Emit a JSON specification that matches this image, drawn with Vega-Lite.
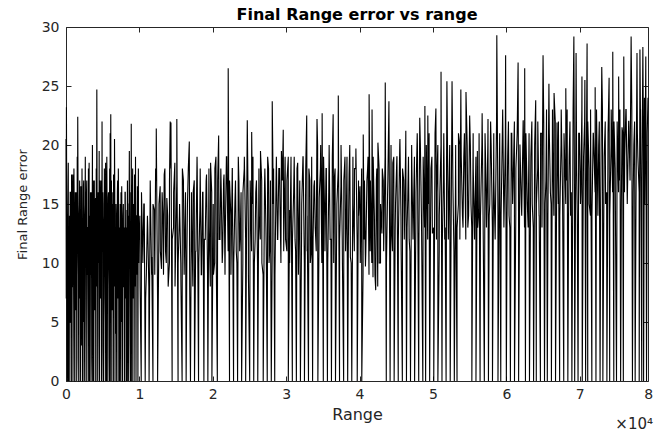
{
"$schema":"https://vega.github.io/schema/vega-lite/v6.json",
"width":582,"height":354,"autosize":"none",
"padding":{"left":66,"top":27,"right":6,"bottom":51},
"title":{"text":"Final Range error vs range","fontSize":16,"fontWeight":"bold","font":"DejaVu Sans","color":"black","anchor":"middle","offset":-3},
"datasets":{"d":[
{"r":0,"e":20.5},{"r":60,"e":23.2},{"r":120,"e":9},{"r":190,"e":0},{"r":250,"e":14},{"r":310,"e":18.5},{"r":380,"e":6},{"r":440,"e":0},{"r":500,"e":13},{"r":570,"e":16},{"r":630,"e":11},{"r":700,"e":0},{"r":760,"e":17.5},{"r":830,"e":8},{"r":890,"e":15},{"r":950,"e":0},{"r":1020,"e":12},{"r":1080,"e":18},{"r":1150,"e":10},{"r":1210,"e":0},{"r":1270,"e":16},{"r":1340,"e":13},{"r":1400,"e":7},{"r":1460,"e":0},{"r":1530,"e":19},{"r":1600,"e":22.4},{"r":1660,"e":11},{"r":1730,"e":0},{"r":1790,"e":14},{"r":1860,"e":17},{"r":1920,"e":9},{"r":1990,"e":0},{"r":2050,"e":15},{"r":2120,"e":12},{"r":2180,"e":18},{"r":2250,"e":0},{"r":2310,"e":10},{"r":2380,"e":16.5},{"r":2440,"e":5},{"r":2500,"e":0},{"r":2570,"e":14},{"r":2630,"e":19},{"r":2700,"e":11},{"r":2760,"e":0},{"r":2830,"e":17},{"r":2890,"e":13},{"r":2960,"e":8},{"r":3020,"e":0},{"r":3080,"e":15.5},{"r":3150,"e":18.5},{"r":3210,"e":12},{"r":3280,"e":0},{"r":3340,"e":16},{"r":3410,"e":9},{"r":3470,"e":14},{"r":3540,"e":0},{"r":3600,"e":20},{"r":3670,"e":13},{"r":3730,"e":6},{"r":3790,"e":0},{"r":3860,"e":17},{"r":3920,"e":11},{"r":3990,"e":15},{"r":4050,"e":0},{"r":4120,"e":18},{"r":4200,"e":24.7},{"r":4260,"e":10},{"r":4320,"e":0},{"r":4390,"e":16},{"r":4450,"e":12},{"r":4520,"e":19.5},{"r":4580,"e":0},{"r":4650,"e":14},{"r":4710,"e":8},{"r":4780,"e":17},{"r":4850,"e":0},{"r":4910,"e":22},{"r":4980,"e":11},{"r":5040,"e":15},{"r":5100,"e":0},{"r":5170,"e":13},{"r":5230,"e":18},{"r":5300,"e":7},{"r":5360,"e":0},{"r":5430,"e":16},{"r":5490,"e":12},{"r":5560,"e":19},{"r":5620,"e":0},{"r":5690,"e":10},{"r":5750,"e":15.5},{"r":5820,"e":13},{"r":5880,"e":0},{"r":5950,"e":18},{"r":6020,"e":21},{"r":6100,"e":22.6},{"r":6160,"e":0},{"r":6220,"e":11},{"r":6290,"e":16},{"r":6350,"e":9},{"r":6420,"e":0},{"r":6480,"e":17.5},{"r":6550,"e":13},{"r":6610,"e":20.5},{"r":6680,"e":0},{"r":6740,"e":12},{"r":6810,"e":15},{"r":6870,"e":7},{"r":6940,"e":0},{"r":7000,"e":16},{"r":7070,"e":11},{"r":7130,"e":18},{"r":7200,"e":0},{"r":7260,"e":13},{"r":7330,"e":9},{"r":7390,"e":15},{"r":7460,"e":0},{"r":7520,"e":12},{"r":7590,"e":16.5},{"r":7650,"e":10},{"r":7720,"e":0},{"r":7780,"e":14},{"r":7850,"e":8},{"r":7910,"e":13},{"r":7980,"e":0},{"r":8040,"e":16},{"r":8110,"e":11},{"r":8170,"e":7},{"r":8240,"e":0},{"r":8300,"e":14.5},{"r":8370,"e":17},{"r":8430,"e":12},{"r":8500,"e":0},{"r":8560,"e":15},{"r":8630,"e":19.5},{"r":8690,"e":10},{"r":8760,"e":0},{"r":8820,"e":16},{"r":8890,"e":21.8},{"r":8950,"e":13},{"r":9020,"e":0},{"r":9080,"e":18},{"r":9150,"e":11},{"r":9210,"e":15},{"r":9280,"e":0},{"r":9340,"e":17.5},{"r":9410,"e":12},{"r":9470,"e":19},{"r":9540,"e":0},{"r":9600,"e":14},{"r":9670,"e":10},{"r":9730,"e":16.5},{"r":9800,"e":0},{"r":9860,"e":18},{"r":9930,"e":13},
{"r":10060,"e":14},{"r":10250,"e":0},{"r":10430,"e":11.5},{"r":10600,"e":15},{"r":10790,"e":0},{"r":10950,"e":9},{"r":11140,"e":13},{"r":11320,"e":0},{"r":11500,"e":16},{"r":11680,"e":10.5},{"r":11850,"e":0},{"r":12030,"e":14.5},{"r":12210,"e":18},{"r":12300,"e":21.4},{"r":12480,"e":0},{"r":12650,"e":12},{"r":12830,"e":16.5},{"r":13010,"e":9.5},{"r":13200,"e":14},{"r":13380,"e":17.5},{"r":13560,"e":11},{"r":13740,"e":15.5},{"r":13920,"e":8},{"r":14100,"e":17},{"r":14200,"e":22},{"r":14300,"e":21.9},{"r":14460,"e":0},{"r":14650,"e":13},{"r":14830,"e":18.5},{"r":15100,"e":22.2},{"r":15270,"e":0},{"r":15450,"e":14},{"r":15640,"e":10},{"r":15820,"e":0},{"r":16000,"e":17},{"r":16190,"e":12.5},{"r":16370,"e":0},{"r":16550,"e":15},{"r":16800,"e":20.3},{"r":16960,"e":0},{"r":17150,"e":13},{"r":17330,"e":16},{"r":17510,"e":0},{"r":17700,"e":11},{"r":17880,"e":18},{"r":18060,"e":0},{"r":18240,"e":14.5},{"r":18430,"e":9},{"r":18610,"e":16},{"r":18790,"e":0},{"r":18970,"e":12},{"r":19150,"e":17.5},{"r":19330,"e":0},{"r":19510,"e":13},{"r":19700,"e":18.5},{"r":19880,"e":0},{"r":20060,"e":15},{"r":20250,"e":10},{"r":20430,"e":19},{"r":20620,"e":0},{"r":20800,"e":20.8},{"r":20980,"e":12},{"r":21160,"e":16},{"r":21350,"e":11},{"r":21530,"e":17.5},{"r":21720,"e":13},{"r":21900,"e":19},{"r":22100,"e":26.5},{"r":22280,"e":0},{"r":22460,"e":14},{"r":22650,"e":18},{"r":22830,"e":0},{"r":23010,"e":15},{"r":23200,"e":11},{"r":23380,"e":0},{"r":23560,"e":17},{"r":23750,"e":12.5},{"r":23930,"e":0},{"r":24110,"e":16},{"r":24300,"e":19},{"r":24480,"e":0},{"r":24700,"e":22.1},{"r":24850,"e":13},{"r":25030,"e":0},{"r":25300,"e":21.1},{"r":25400,"e":15},{"r":25580,"e":0},{"r":25770,"e":12},{"r":25950,"e":17},{"r":26130,"e":0},{"r":26320,"e":14},{"r":26500,"e":19.5},{"r":26690,"e":10},{"r":26870,"e":0},{"r":27050,"e":16.5},{"r":27240,"e":13},{"r":27420,"e":0},{"r":27600,"e":18},{"r":27790,"e":11.5},{"r":27970,"e":0},{"r":28100,"e":23.7},{"r":28250,"e":15},{"r":28440,"e":0},{"r":28620,"e":17},{"r":28810,"e":12},{"r":29000,"e":18},{"r":29180,"e":14},{"r":29350,"e":19.5},{"r":29600,"e":21.3},{"r":29750,"e":15},{"r":29920,"e":12},
{"r":30100,"e":17},{"r":30290,"e":0},{"r":30470,"e":14.5},{"r":30660,"e":19},{"r":30840,"e":0},{"r":31020,"e":16},{"r":31210,"e":12},{"r":31390,"e":0},{"r":31570,"e":18.5},{"r":31760,"e":13.5},{"r":31940,"e":0},{"r":32120,"e":15},{"r":32310,"e":19},{"r":32490,"e":0},{"r":32800,"e":22.5},{"r":32860,"e":14},{"r":33040,"e":0},{"r":33230,"e":17},{"r":33410,"e":11},{"r":33600,"e":0},{"r":33780,"e":16.5},{"r":33960,"e":13},{"r":34200,"e":22.2},{"r":34320,"e":0},{"r":34500,"e":15.5},{"r":34700,"e":20},{"r":34900,"e":22.7},{"r":35060,"e":0},{"r":35250,"e":14},{"r":35430,"e":18},{"r":35620,"e":0},{"r":35800,"e":16},{"r":35990,"e":12},{"r":36170,"e":0},{"r":36400,"e":22.6},{"r":36540,"e":17},{"r":36720,"e":0},{"r":36910,"e":15},{"r":37100,"e":24.2},{"r":37270,"e":0},{"r":37460,"e":16.5},{"r":37640,"e":12},{"r":37830,"e":0},{"r":38010,"e":19},{"r":38200,"e":14},{"r":38380,"e":0},{"r":38570,"e":17.5},{"r":38750,"e":10.5},{"r":38940,"e":0},{"r":39120,"e":15},{"r":39310,"e":18},{"r":39500,"e":19.7},{"r":39680,"e":0},{"r":39860,"e":14},{"r":40050,"e":16.5},{"r":40300,"e":0},{"r":40500,"e":20.9},{"r":40620,"e":12},{"r":40800,"e":9.7},{"r":41000,"e":17},{"r":41150,"e":19},{"r":41300,"e":24.3},{"r":41450,"e":11},{"r":41700,"e":23},{"r":41830,"e":8.8},{"r":42020,"e":14},{"r":42200,"e":7.7},{"r":42350,"e":18},{"r":42500,"e":20.2},{"r":42680,"e":10},{"r":42860,"e":15},{"r":43050,"e":12.5},{"r":43230,"e":17},{"r":43500,"e":25.3},{"r":43640,"e":0},{"r":43820,"e":16},{"r":44000,"e":23.7},{"r":44160,"e":0},{"r":44340,"e":13},{"r":44530,"e":18.5},{"r":44710,"e":0},{"r":44900,"e":15},{"r":45080,"e":19},{"r":45270,"e":0},{"r":45500,"e":20.5},{"r":45640,"e":14},{"r":45830,"e":0},{"r":46010,"e":17},{"r":46300,"e":21.2},{"r":46390,"e":0},{"r":46570,"e":15.5},{"r":46760,"e":12},{"r":46940,"e":0},{"r":47130,"e":18},{"r":47320,"e":13.5},{"r":47500,"e":0},{"r":47690,"e":16},{"r":47880,"e":20},{"r":48060,"e":0},{"r":48200,"e":22.3},{"r":48430,"e":14},{"r":48620,"e":0},{"r":48900,"e":23.3},{"r":49000,"e":0},{"r":49300,"e":22.5},{"r":49360,"e":15},{"r":49550,"e":0},{"r":49730,"e":18},{"r":49920,"e":12.5},
{"r":50110,"e":0},{"r":50400,"e":23.1},{"r":50480,"e":16},{"r":50670,"e":0},{"r":50860,"e":14},{"r":51100,"e":26.2},{"r":51230,"e":0},{"r":51420,"e":17},{"r":51600,"e":12},{"r":51790,"e":0},{"r":51900,"e":25.4},{"r":52160,"e":15},{"r":52350,"e":0},{"r":52600,"e":25.4},{"r":52720,"e":16.5},{"r":52910,"e":0},{"r":53100,"e":18},{"r":53280,"e":0},{"r":53470,"e":15},{"r":53650,"e":20},{"r":53800,"e":24.7},{"r":54020,"e":14},{"r":54200,"e":19},{"r":54380,"e":16.5},{"r":54500,"e":24.5},{"r":54750,"e":13},{"r":55000,"e":22.5},{"r":55180,"e":15},{"r":55300,"e":0},{"r":55490,"e":18},{"r":55680,"e":13},{"r":55860,"e":0},{"r":56050,"e":19.5},{"r":56240,"e":14.5},{"r":56420,"e":0},{"r":56700,"e":22.7},{"r":56800,"e":16},{"r":57000,"e":0},{"r":57180,"e":18.5},{"r":57500,"e":22.2},{"r":57560,"e":0},{"r":57740,"e":15},{"r":57930,"e":20},{"r":58110,"e":0},{"r":58300,"e":17},{"r":58490,"e":13},{"r":58700,"e":29.3},{"r":58860,"e":0},{"r":59050,"e":18},{"r":59240,"e":0},{"r":59500,"e":23},{"r":59620,"e":16},{"r":59900,"e":27.6},{"r":60000,"e":0},{"r":60180,"e":19},{"r":60370,"e":14},{"r":60550,"e":0},{"r":60740,"e":21},{"r":60920,"e":16.5},{"r":61110,"e":0},{"r":61300,"e":18},{"r":61600,"e":27},{"r":61670,"e":0},{"r":61850,"e":20},{"r":62040,"e":15},{"r":62300,"e":22.1},{"r":62500,"e":26.5},{"r":62600,"e":0},{"r":62780,"e":17.5},{"r":62970,"e":13},{"r":63150,"e":0},{"r":63340,"e":19},{"r":63530,"e":15},{"r":63710,"e":0},{"r":64000,"e":23.8},{"r":64080,"e":0},{"r":64270,"e":18},{"r":64460,"e":14},{"r":64640,"e":0},{"r":64830,"e":21},{"r":65000,"e":27.6},{"r":65200,"e":0},{"r":65390,"e":17},{"r":65580,"e":0},{"r":65800,"e":25.2},{"r":66000,"e":16},{"r":66140,"e":0},{"r":66330,"e":19.5},{"r":66500,"e":24.4},{"r":66700,"e":0},{"r":66900,"e":21.9},{"r":67080,"e":15},{"r":67260,"e":0},{"r":67450,"e":20},{"r":67640,"e":16.5},{"r":67820,"e":0},{"r":68100,"e":24.8},{"r":68190,"e":17},{"r":68380,"e":0},{"r":68560,"e":19},{"r":68750,"e":14},{"r":68930,"e":0},{"r":69200,"e":29.2},{"r":69310,"e":0},{"r":69500,"e":27.8},{"r":69580,"e":18},{"r":69770,"e":0},{"r":69960,"e":21},
{"r":70150,"e":16},{"r":70300,"e":25.8},{"r":70340,"e":0},{"r":70520,"e":19},{"r":70700,"e":25.5},{"r":70800,"e":0},{"r":71000,"e":28.6},{"r":71090,"e":0},{"r":71270,"e":18},{"r":71460,"e":14},{"r":71650,"e":0},{"r":71830,"e":21},{"r":72100,"e":24.9},{"r":72210,"e":0},{"r":72400,"e":17.5},{"r":72580,"e":20},{"r":72770,"e":0},{"r":73000,"e":26.6},{"r":73150,"e":0},{"r":73330,"e":19},{"r":73520,"e":15},{"r":73700,"e":0},{"r":74000,"e":25.7},{"r":74080,"e":0},{"r":74270,"e":20},{"r":74500,"e":27.9},{"r":74640,"e":0},{"r":74830,"e":18},{"r":75010,"e":0},{"r":75300,"e":25.8},{"r":75380,"e":17},{"r":75570,"e":0},{"r":75760,"e":21.5},{"r":75940,"e":0},{"r":76000,"e":27.5},{"r":76130,"e":19},{"r":76320,"e":23},{"r":76500,"e":16},{"r":76690,"e":22},{"r":76870,"e":18.5},{"r":77000,"e":29.2},{"r":77180,"e":0},{"r":77370,"e":20},{"r":77550,"e":0},{"r":77800,"e":27.8},{"r":77920,"e":19},{"r":78100,"e":0},{"r":78200,"e":28.1},{"r":78280,"e":22},{"r":78450,"e":0},{"r":78600,"e":28.3},{"r":78700,"e":0},{"r":78820,"e":24},{"r":79000,"e":27.5},{"r":79100,"e":0},{"r":79300,"e":24},
{"r":35,"e":7},{"r":95,"e":15},{"r":155,"e":3},{"r":225,"e":12},{"r":285,"e":17},{"r":345,"e":0},{"r":415,"e":9},{"r":475,"e":14},{"r":535,"e":5},{"r":605,"e":16},{"r":665,"e":11},{"r":735,"e":0},{"r":795,"e":13},{"r":865,"e":8},{"r":925,"e":17.5},{"r":985,"e":4},{"r":1055,"e":10},{"r":1115,"e":15},{"r":1185,"e":0},{"r":1245,"e":12},{"r":1305,"e":6},{"r":1375,"e":16},{"r":1435,"e":14},{"r":1495,"e":2},{"r":1565,"e":11},{"r":1635,"e":17},{"r":1695,"e":9},{"r":1765,"e":0},{"r":1825,"e":15},{"r":1895,"e":7},{"r":1955,"e":13},{"r":2025,"e":16.5},{"r":2085,"e":3},{"r":2155,"e":10},{"r":2215,"e":14},{"r":2285,"e":0},{"r":2345,"e":8},{"r":2415,"e":17},{"r":2475,"e":12},{"r":2535,"e":5},{"r":2605,"e":15},{"r":2665,"e":11},{"r":2735,"e":0},{"r":2795,"e":16},{"r":2865,"e":9},{"r":2925,"e":13},{"r":2995,"e":4},{"r":3055,"e":18},{"r":3115,"e":10},{"r":3185,"e":0},{"r":3245,"e":14},{"r":3315,"e":7},{"r":3375,"e":12},{"r":3445,"e":16},{"r":3505,"e":2},{"r":3575,"e":15},{"r":3635,"e":9},{"r":3705,"e":0},{"r":3765,"e":17},{"r":3825,"e":11},{"r":3895,"e":6},{"r":3955,"e":13},{"r":4025,"e":15.5},{"r":4085,"e":0},{"r":4155,"e":8},{"r":4235,"e":16},{"r":4295,"e":12},{"r":4355,"e":4},{"r":4425,"e":14},{"r":4485,"e":10},{"r":4555,"e":0},{"r":4615,"e":17},{"r":4685,"e":7},{"r":4745,"e":13},{"r":4815,"e":15},{"r":4885,"e":3},{"r":4945,"e":11},{"r":5015,"e":16},{"r":5075,"e":0},{"r":5135,"e":9},{"r":5205,"e":14},{"r":5265,"e":12},{"r":5335,"e":5},{"r":5395,"e":18.5},{"r":5465,"e":10},{"r":5525,"e":0},{"r":5595,"e":15},{"r":5655,"e":8},{"r":5725,"e":13},{"r":5785,"e":16},{"r":5855,"e":2},{"r":5915,"e":12},{"r":5985,"e":0},{"r":6065,"e":14},{"r":6135,"e":9},{"r":6195,"e":17},{"r":6255,"e":6},{"r":6325,"e":11},{"r":6385,"e":15},{"r":6455,"e":0},{"r":6515,"e":13},{"r":6585,"e":8},{"r":6645,"e":16},{"r":6715,"e":10},{"r":6775,"e":4},{"r":6845,"e":14},{"r":6905,"e":0},{"r":6975,"e":12},{"r":7035,"e":17},{"r":7105,"e":7},{"r":7165,"e":15},{"r":7235,"e":9},{"r":7295,"e":0},{"r":7365,"e":13},{"r":7425,"e":11},{"r":7495,"e":16},{"r":7555,"e":5},{"r":7625,"e":14},{"r":7685,"e":0},{"r":7755,"e":10},{"r":7815,"e":15},{"r":7885,"e":8},{"r":7945,"e":12},{"r":8015,"e":0},{"r":8075,"e":16},{"r":8145,"e":9},{"r":8205,"e":13},{"r":8275,"e":6},{"r":8335,"e":11},{"r":8405,"e":0},{"r":8465,"e":14},{"r":8535,"e":8},{"r":8595,"e":15},{"r":8665,"e":10},{"r":8725,"e":3},{"r":8795,"e":12},{"r":8855,"e":0},{"r":8925,"e":13},{"r":8985,"e":9},{"r":9055,"e":16},{"r":9115,"e":11},{"r":9185,"e":7},{"r":9245,"e":14},{"r":9315,"e":10},{"r":9375,"e":15},{"r":9445,"e":8},{"r":9505,"e":12},{"r":9575,"e":14},{"r":9635,"e":9},{"r":9705,"e":13},{"r":9765,"e":11},{"r":9835,"e":15},{"r":9895,"e":10},{"r":9965,"e":12},
{"r":10095,"e":8},{"r":10285,"e":16},{"r":10475,"e":10},{"r":10665,"e":15},{"r":10855,"e":7},{"r":11095,"e":14},{"r":11285,"e":8},{"r":11475,"e":17},{"r":11665,"e":9},{"r":11855,"e":15},{"r":12095,"e":9},{"r":12285,"e":17},{"r":12475,"e":7},{"r":12665,"e":15},{"r":12855,"e":11},{"r":13095,"e":16},{"r":13285,"e":9},{"r":13475,"e":18},{"r":13665,"e":10},{"r":13855,"e":14},{"r":14095,"e":10},{"r":14285,"e":18},{"r":14475,"e":12},{"r":14665,"e":16},{"r":14855,"e":8},{"r":15095,"e":17},{"r":15285,"e":10},{"r":15475,"e":15},{"r":15665,"e":8},{"r":15855,"e":18},{"r":16095,"e":9},{"r":16285,"e":16},{"r":16475,"e":11},{"r":16665,"e":18},{"r":16855,"e":8},{"r":17095,"e":16},{"r":17285,"e":8},{"r":17475,"e":17},{"r":17665,"e":11},{"r":17855,"e":19},{"r":18095,"e":10},{"r":18285,"e":18},{"r":18475,"e":9},{"r":18665,"e":16},{"r":18855,"e":12},{"r":19095,"e":17},{"r":19285,"e":9},{"r":19475,"e":18},{"r":19665,"e":8},{"r":19855,"e":16},{"r":20095,"e":9},{"r":20285,"e":18},{"r":20475,"e":10},{"r":20665,"e":17},{"r":20855,"e":12},{"r":21095,"e":18},{"r":21285,"e":10},{"r":21475,"e":17},{"r":21665,"e":9},{"r":21855,"e":19},{"r":22095,"e":11},{"r":22285,"e":17},{"r":22475,"e":9},{"r":22665,"e":18},{"r":22855,"e":10},{"r":23095,"e":17},{"r":23285,"e":10},{"r":23475,"e":19},{"r":23665,"e":11},{"r":23855,"e":16},{"r":24095,"e":10},{"r":24285,"e":18},{"r":24475,"e":12},{"r":24665,"e":19},{"r":24855,"e":9},{"r":25095,"e":17},{"r":25285,"e":11},{"r":25475,"e":19},{"r":25665,"e":10},{"r":25855,"e":16},{"r":26095,"e":10},{"r":26285,"e":18},{"r":26475,"e":12},{"r":26665,"e":17},{"r":26855,"e":9},{"r":27095,"e":18},{"r":27285,"e":11},{"r":27475,"e":19},{"r":27665,"e":10},{"r":27855,"e":17},{"r":28095,"e":11},{"r":28285,"e":18},{"r":28475,"e":9},{"r":28665,"e":19},{"r":28855,"e":12},{"r":29095,"e":18},{"r":29285,"e":10},{"r":29475,"e":17},{"r":29665,"e":11},{"r":29855,"e":19},
{"r":30095,"e":11},{"r":30285,"e":19},{"r":30475,"e":10},{"r":30665,"e":18},{"r":30855,"e":12},{"r":31095,"e":19},{"r":31285,"e":11},{"r":31475,"e":18},{"r":31665,"e":9},{"r":31855,"e":17},{"r":32095,"e":12},{"r":32285,"e":19},{"r":32475,"e":10},{"r":32665,"e":18},{"r":32855,"e":11},{"r":33095,"e":18},{"r":33285,"e":10},{"r":33475,"e":19},{"r":33665,"e":12},{"r":33855,"e":17},{"r":34095,"e":11},{"r":34285,"e":20},{"r":34475,"e":12},{"r":34665,"e":18},{"r":34855,"e":10},{"r":35095,"e":19},{"r":35285,"e":11},{"r":35475,"e":18},{"r":35665,"e":10},{"r":35855,"e":20},{"r":36095,"e":12},{"r":36285,"e":19},{"r":36475,"e":10},{"r":36665,"e":18},{"r":36855,"e":11},{"r":37095,"e":18},{"r":37285,"e":12},{"r":37475,"e":20},{"r":37665,"e":10},{"r":37855,"e":17},{"r":38095,"e":11},{"r":38285,"e":19},{"r":38475,"e":12},{"r":38665,"e":20},{"r":38855,"e":10},{"r":39095,"e":19},{"r":39285,"e":11},{"r":39475,"e":18},{"r":39665,"e":12},{"r":39855,"e":17},{"r":40095,"e":10},{"r":40285,"e":18},{"r":40475,"e":9},{"r":40665,"e":17},{"r":40855,"e":11},{"r":41095,"e":18},{"r":41285,"e":9},{"r":41475,"e":17},{"r":41665,"e":10},{"r":41855,"e":19},{"r":42095,"e":9},{"r":42285,"e":17},{"r":42475,"e":8},{"r":42665,"e":18},{"r":42855,"e":10},{"r":43095,"e":18},{"r":43285,"e":11},{"r":43475,"e":19},{"r":43665,"e":10},{"r":43855,"e":17},{"r":44095,"e":12},{"r":44285,"e":20},{"r":44475,"e":11},{"r":44665,"e":19},{"r":44855,"e":13},{"r":45095,"e":19},{"r":45285,"e":12},{"r":45475,"e":20},{"r":45665,"e":11},{"r":45855,"e":18},{"r":46095,"e":12},{"r":46285,"e":20},{"r":46475,"e":13},{"r":46665,"e":19},{"r":46855,"e":11},{"r":47095,"e":20},{"r":47285,"e":12},{"r":47475,"e":19},{"r":47665,"e":13},{"r":47855,"e":21},{"r":48095,"e":12},{"r":48285,"e":20},{"r":48475,"e":11},{"r":48665,"e":19},{"r":48855,"e":13},{"r":49095,"e":20},{"r":49285,"e":12},{"r":49475,"e":21},{"r":49665,"e":13},{"r":49855,"e":19},
{"r":50095,"e":13},{"r":50285,"e":21},{"r":50475,"e":12},{"r":50665,"e":20},{"r":50855,"e":11},{"r":51095,"e":20},{"r":51285,"e":12},{"r":51475,"e":21},{"r":51665,"e":13},{"r":51855,"e":19},{"r":52095,"e":12},{"r":52285,"e":20},{"r":52475,"e":13},{"r":52665,"e":21},{"r":52855,"e":11},{"r":53095,"e":20},{"r":53285,"e":13},{"r":53475,"e":21},{"r":53665,"e":12},{"r":53855,"e":19},{"r":54095,"e":13},{"r":54285,"e":21},{"r":54475,"e":12},{"r":54665,"e":20},{"r":54855,"e":14},{"r":55095,"e":20},{"r":55285,"e":13},{"r":55475,"e":21},{"r":55665,"e":12},{"r":55855,"e":19},{"r":56095,"e":13},{"r":56285,"e":21},{"r":56475,"e":14},{"r":56665,"e":20},{"r":56855,"e":12},{"r":57095,"e":21},{"r":57285,"e":13},{"r":57475,"e":20},{"r":57665,"e":14},{"r":57855,"e":22},{"r":58095,"e":13},{"r":58285,"e":21},{"r":58475,"e":12},{"r":58665,"e":22},{"r":58855,"e":14},{"r":59095,"e":21},{"r":59285,"e":14},{"r":59475,"e":22},{"r":59665,"e":13},{"r":59855,"e":20},{"r":60095,"e":14},{"r":60285,"e":22},{"r":60475,"e":13},{"r":60665,"e":21},{"r":60855,"e":15},{"r":61095,"e":22},{"r":61285,"e":14},{"r":61475,"e":21},{"r":61665,"e":13},{"r":61855,"e":20},{"r":62095,"e":14},{"r":62285,"e":22},{"r":62475,"e":13},{"r":62665,"e":21},{"r":62855,"e":15},{"r":63095,"e":21},{"r":63285,"e":14},{"r":63475,"e":22},{"r":63665,"e":13},{"r":63855,"e":20},{"r":64095,"e":15},{"r":64285,"e":22},{"r":64475,"e":14},{"r":64665,"e":21},{"r":64855,"e":13},{"r":65095,"e":22},{"r":65285,"e":15},{"r":65475,"e":23},{"r":65665,"e":14},{"r":65855,"e":21},{"r":66095,"e":15},{"r":66285,"e":23},{"r":66475,"e":14},{"r":66665,"e":22},{"r":66855,"e":16},{"r":67095,"e":22},{"r":67285,"e":14},{"r":67475,"e":23},{"r":67665,"e":15},{"r":67855,"e":21},{"r":68095,"e":15},{"r":68285,"e":23},{"r":68475,"e":14},{"r":68665,"e":22},{"r":68855,"e":16},{"r":69095,"e":23},{"r":69285,"e":15},{"r":69475,"e":22},{"r":69665,"e":14},{"r":69855,"e":21},
{"r":70095,"e":15},{"r":70285,"e":23},{"r":70475,"e":16},{"r":70665,"e":22},{"r":70855,"e":14},{"r":71095,"e":22},{"r":71285,"e":15},{"r":71475,"e":23},{"r":71665,"e":14},{"r":71855,"e":21},{"r":72095,"e":16},{"r":72285,"e":23},{"r":72475,"e":14},{"r":72665,"e":22},{"r":72855,"e":15},{"r":73095,"e":23},{"r":73285,"e":15},{"r":73475,"e":22},{"r":73665,"e":16},{"r":73855,"e":21},{"r":74095,"e":14},{"r":74285,"e":23},{"r":74475,"e":16},{"r":74665,"e":22},{"r":74855,"e":15},{"r":75095,"e":22},{"r":75285,"e":16},{"r":75475,"e":23},{"r":75665,"e":15},{"r":75855,"e":21},{"r":76095,"e":16},{"r":76285,"e":23},{"r":76475,"e":15},{"r":76665,"e":22},{"r":76855,"e":17},{"r":77095,"e":23},{"r":77285,"e":16},{"r":77475,"e":22},{"r":77665,"e":15},{"r":77855,"e":21},{"r":78095,"e":16},{"r":78285,"e":23},{"r":78475,"e":17},{"r":78665,"e":22},{"r":78855,"e":15},{"r":79195,"e":21}
]},
"layer":[
{"data":{"name":"d"},"mark":{"type":"line","color":"black","strokeWidth":1.1},
"encoding":{
"x":{"field":"r","type":"quantitative","scale":{"domain":[0,79300],"nice":false,"zero":false},
"axis":{"orient":"bottom","title":"Range","values":[0,10000,20000,30000,40000,50000,60000,70000],"labelExpr":"datum.value/10000","tickSize":-5,"labelPadding":11,"titlePadding":5,"grid":false,"domain":false}},
"y":{"field":"e","type":"quantitative","scale":{"domain":[0,30],"nice":false},
"axis":{"orient":"left","title":"Final Range error","values":[0,5,10,15,20,25,30],"tickSize":-5,"labelPadding":12,"titlePadding":12,"titleFontSize":13,"grid":false,"domain":false}}}},
{"data":{"name":"d"},"mark":{"type":"line","strokeOpacity":0},
"encoding":{
"x":{"field":"r","type":"quantitative","axis":{"orient":"top","title":null,"labels":false,"values":[0,10000,20000,30000,40000,50000,60000,70000],"tickSize":-5,"grid":false,"domain":false}},
"y":{"field":"e","type":"quantitative","axis":{"orient":"right","title":null,"labels":false,"values":[0,5,10,15,20,25,30],"tickSize":-5,"grid":false,"domain":false}}}},
{"data":{"values":[{"t":"8"}]},"mark":{"type":"text","align":"right","baseline":"middle","dy":14,"dx":0,"fontSize":14,"font":"DejaVu Sans","color":"#262626"},
"encoding":{"x":{"datum":80000,"type":"quantitative","axis":null},"y":{"datum":0,"type":"quantitative","axis":null},"text":{"field":"t"}}},
{"data":{"values":[{"t":"×10⁴"}]},"mark":{"type":"text","align":"right","baseline":"middle","dy":43,"dx":5,"fontSize":15,"font":"DejaVu Sans","color":"#262626"},
"encoding":{"x":{"datum":79300,"type":"quantitative","axis":null},"y":{"datum":0,"type":"quantitative","axis":null},"text":{"field":"t"}}}
],
"resolve":{"axis":{"x":"independent","y":"independent"}},
"config":{"view":{"stroke":"#262626","strokeWidth":1},
"axis":{"labelFont":"DejaVu Sans","titleFont":"DejaVu Sans","labelFontSize":14,"titleFontSize":16,"titleFontWeight":"normal","labelColor":"#262626","titleColor":"#262626","tickColor":"#262626","labelFlush":false,"labelOverlap":false}}
}
